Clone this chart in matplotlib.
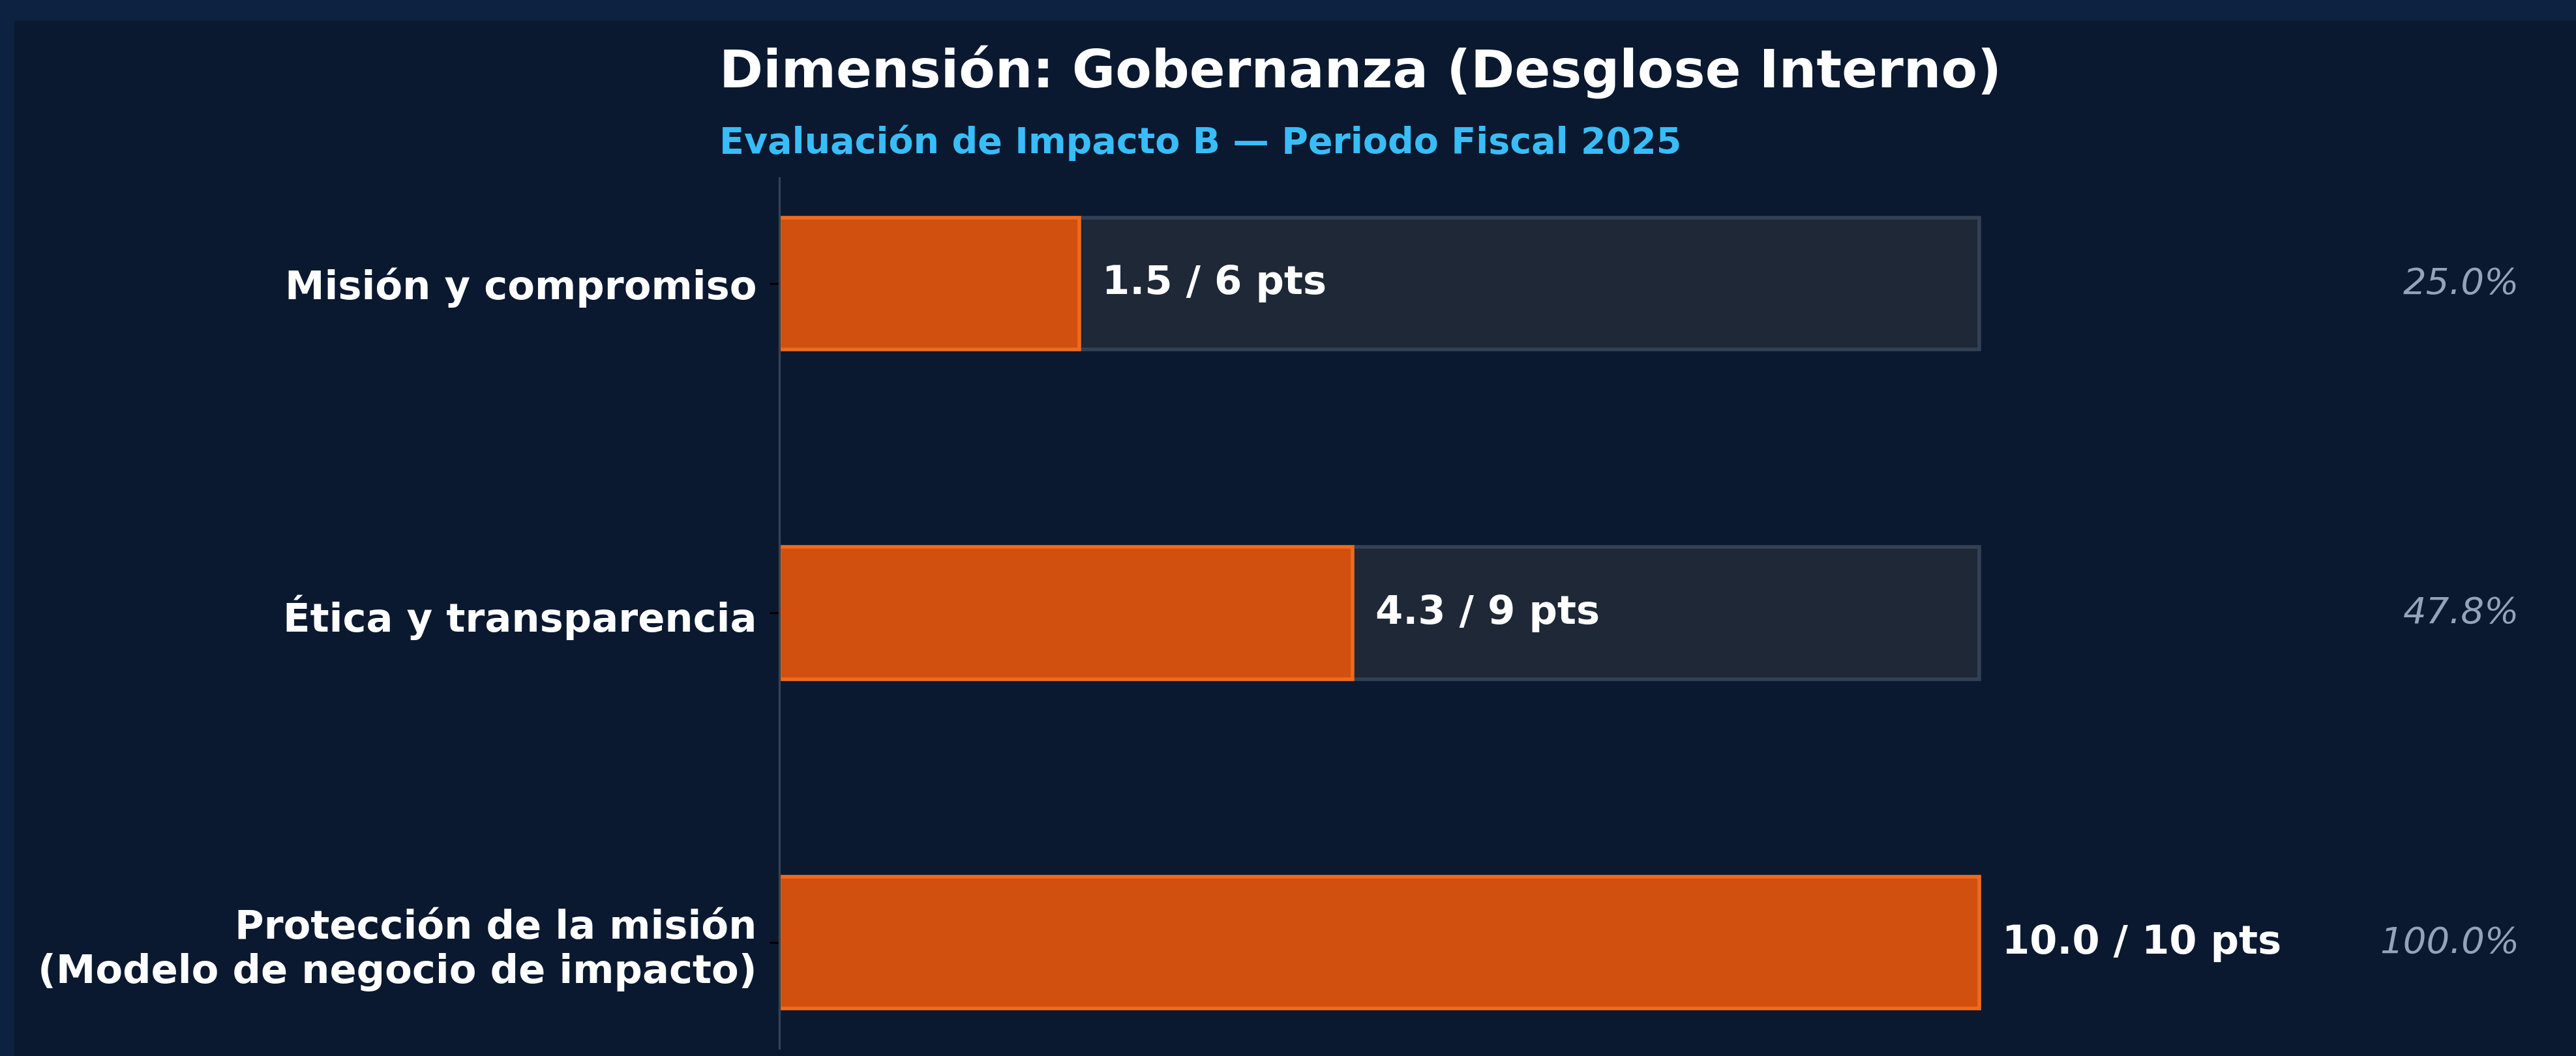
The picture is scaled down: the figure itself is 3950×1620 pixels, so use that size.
import matplotlib
matplotlib.use("Agg")
import matplotlib.pyplot as plt
from matplotlib.patches import Rectangle

# data
categories = ["Misión y compromiso",
              "Ética y transparencia",
              "Protección de la misión\n(Modelo de negocio de impacto)"]
scores = [1.5, 4.3, 10.0]
max_pts = [6, 9, 10]
pct_labels = ["25.0%", "47.8%", "100.0%"]

title = "Dimensión: Gobernanza (Desglose Interno)"
subtitle = "Evaluación de Impacto B — Periodo Fiscal 2025"

# colours
outer_bg = "#0c2240"
inner_bg = "#0b1930"
orange = "#d1500f"
orange_edge = "#f06a1c"
track = "#1f2837"
track_edge = "#334155"
muted = "#94a3b8"

plt.rcParams['font.family'] = 'DejaVu Sans'

fig = plt.figure(figsize=(19.75, 8.1), dpi=200, facecolor=outer_bg)
# inner panel (page card)
fig.patches.append(Rectangle((22 / 3950, 0), 1, 1 - 32 / 1620, transform=fig.transFigure,
                             facecolor=inner_bg, edgecolor="none", zorder=-10))

ax = fig.add_axes([0.3025, 0.0074, 0.978 - 0.3025, 0.8241])
ax.set_facecolor("none")
ax.set_zorder(5)

ypos = list(range(len(categories)))
fractions = [s / m for s, m in zip(scores, max_pts)]

# background tracks then filled portion
ax.barh(ypos, [1.0] * len(ypos), height=0.4, color=track, edgecolor=track_edge, linewidth=2, zorder=1)
ax.barh(ypos, fractions, height=0.4, color=orange, edgecolor=orange_edge, linewidth=2, zorder=2)

for y, f, s, m, p in zip(ypos, fractions, scores, max_pts, pct_labels):
    ax.text(f + 0.019, y, f"{s:.1f} / {m} pts", va="center", ha="left",
            color="white", fontsize=21.9, fontweight="bold", zorder=3)
    ax.text(1.45, y, p, va="center", ha="right", color=muted,
            fontsize=20.2, fontstyle="italic", zorder=3)

ax.set_yticks(ypos)
ax.set_yticklabels(categories, fontsize=21.9, fontweight="bold", color="white")
ax.invert_yaxis()
ax.set_xlim(0, 1.45)
ax.set_xticks([])
ax.tick_params(axis="y", length=5.5, width=1.2, color="black", pad=6.8)

for side in ["top", "right", "bottom"]:
    ax.spines[side].set_visible(False)
ax.spines["left"].set_color(track_edge)
ax.spines["left"].set_linewidth(1.2)

fig.text(1103 / 3950, 1 - 135 / 1620, title, ha="left", va="baseline",
         fontsize=29.1, fontweight="bold", color="white")
fig.text(1103 / 3950, 1 - 235 / 1620, subtitle, ha="left", va="baseline",
         fontsize=20, fontweight="bold", color="#38bdf8")

fig.savefig("out.png", dpi=200, facecolor=fig.get_facecolor())
